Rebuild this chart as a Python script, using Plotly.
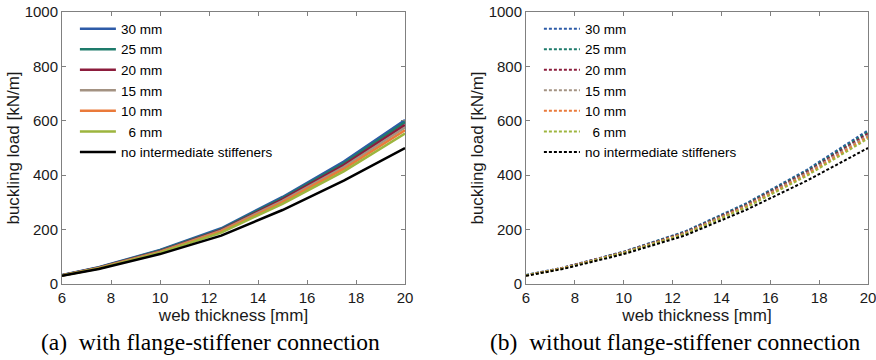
import plotly.graph_objects as go

thickness = [6, 7.5, 10, 12.5, 15, 17.5, 20]
names = ["30 mm", "25 mm", "20 mm", "15 mm", "10 mm", "\u20076 mm", "no intermediate stiffeners"]
colors = ["#2E5BA8", "#1E7B6B", "#8C1C3C", "#A39282", "#EA7A3A", "#9DB53E", "#000000"]

with_conn = {
    "30 mm": [33, 62, 125, 205, 320, 450, 603],
    "25 mm": [32, 61, 123, 202, 316, 444, 595],
    "20 mm": [32, 60, 121, 199, 311, 437, 585],
    "15 mm": [31, 59, 119, 196, 306, 430, 575],
    "10 mm": [31, 58, 117, 193, 301, 423, 565],
    "6 mm": [31, 57, 115, 189, 295, 414, 553],
    "none": [30, 55, 110, 178, 272, 380, 500],
}
without_conn = {
    "30 mm": [33, 60, 119, 193, 296, 420, 565],
    "25 mm": [33, 59, 118, 191, 293, 416, 559],
    "20 mm": [32, 59, 117, 189, 290, 412, 553],
    "15 mm": [32, 58, 116, 187, 287, 408, 547],
    "10 mm": [31, 58, 115, 185, 284, 403, 541],
    "6 mm": [31, 57, 114, 183, 281, 398, 535],
    "none": [30, 55, 110, 178, 272, 380, 500],
}
keys = ["30 mm", "25 mm", "20 mm", "15 mm", "10 mm", "6 mm", "none"]

x_ticks = [6, 8, 10, 12, 14, 16, 18, 20]
y_ticks = [0, 200, 400, 600, 800, 1000]

fig = go.Figure()
for i, (k, n, c) in enumerate(zip(keys, names, colors)):
    fig.add_trace(go.Scatter(x=thickness, y=with_conn[k], mode="lines", name=n,
                             line=dict(color=c, width=2.5), xaxis="x", yaxis="y",
                             legend="legend", legendgroup="a%d" % i))
for i, (k, n, c) in enumerate(zip(keys, names, colors)):
    fig.add_trace(go.Scatter(x=thickness, y=without_conn[k], mode="lines", name=n,
                             line=dict(color=c, width=2, dash="3px,2px"), xaxis="x2", yaxis="y2",
                             legend="legend2", legendgroup="b%d" % i))

W, H = 876, 360
ml, mr, mt, mb = 62, 8, 12, 76
pw = W - ml - mr
ph = H - mt - mb
d1 = (405 - ml) / pw
d2 = (526 - ml) / pw

axis_common = dict(showline=True, linecolor="#808080", linewidth=1, mirror="ticks",
                   ticks="inside", ticklen=4, tickcolor="#808080", showgrid=False,
                   zeroline=False, automargin=False, ticklabeloverflow="allow",
                   tickfont=dict(family="Liberation Sans", size=15, color="#1a1a1a"))
title_font = dict(family="Liberation Sans", size=17, color="#1a1a1a")
legend_font = dict(family="Liberation Sans", size=13.5, color="black")

fig.update_layout(
    width=W, height=H, margin=dict(l=ml, r=mr, t=mt, b=mb, autoexpand=False),
    paper_bgcolor="white", plot_bgcolor="white",
    font=dict(family="Liberation Sans", color="black"),
    xaxis=dict(domain=[0, d1], range=[6, 20], tickvals=x_ticks, anchor="y",
               title=dict(text="web thickness [mm]", font=title_font, standoff=0), **axis_common),
    yaxis=dict(domain=[0, 1], range=[0, 1000], tickvals=y_ticks, anchor="x",
               title=dict(text="buckling load [kN/m]", font=title_font, standoff=0), **axis_common),
    xaxis2=dict(domain=[d2, 1], range=[6, 20], tickvals=x_ticks, anchor="y2",
                title=dict(text="web thickness [mm]", font=title_font, standoff=0), **axis_common),
    yaxis2=dict(domain=[0, 1], range=[0, 1000], tickvals=y_ticks, anchor="x2",
                title=dict(text="buckling load [kN/m]", font=title_font, standoff=0), **axis_common),
    legend=dict(x=0.016, y=0.995, xanchor="left", yanchor="top", bgcolor="rgba(0,0,0,0)",
                font=legend_font, tracegroupgap=0, itemwidth=36),
    legend2=dict(x=d2 + 0.016, y=0.995, xanchor="left", yanchor="top", bgcolor="rgba(0,0,0,0)",
                 font=legend_font, tracegroupgap=0, itemwidth=36),
    showlegend=True,
)

cap_font = dict(family="Liberation Serif", size=23.5, color="black")
cap_y = -(342 - (mt + ph)) / ph
fig.add_annotation(text="(a)  with flange-stiffener connection", xref="paper", yref="paper",
                   x=(210 - ml) / pw, y=cap_y, xanchor="center", yanchor="middle",
                   showarrow=False, font=cap_font)
fig.add_annotation(text="(b)  without flange-stiffener connection", xref="paper", yref="paper",
                   x=(675 - ml) / pw, y=cap_y, xanchor="center", yanchor="middle",
                   showarrow=False, font=cap_font)

fig.write_html("out.html", config={"displayModeBar": False},
               post_script="document.body.style.margin='0px';document.body.style.overflow='hidden';")
